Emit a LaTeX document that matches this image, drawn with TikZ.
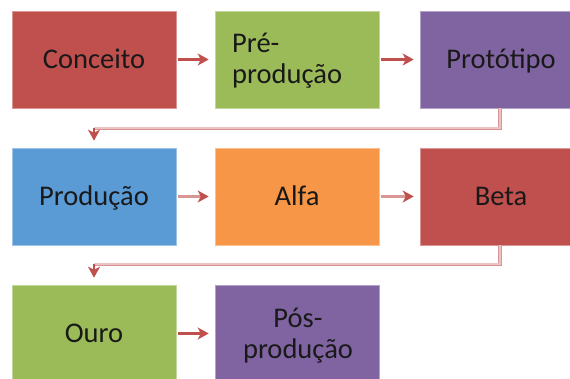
\documentclass[tikz,border=0pt]{standalone}
\usepackage{fontspec}
\setmainfont{Carlito}
\usetikzlibrary{arrows.meta}
\definecolor{cred}{HTML}{C0504D}
\definecolor{cgreen}{HTML}{9BBB59}
\definecolor{cpurple}{HTML}{8064A2}
\definecolor{cblue}{HTML}{5B9BD5}
\definecolor{corange}{HTML}{F79646}
\definecolor{cpink}{HTML}{EBC3C2}
\definecolor{cpinkedge}{HTML}{D99694}
\tikzset{
  box/.style={rectangle, minimum width=164pt, minimum height=97pt, inner sep=0pt, line width=0.6pt},
  lbl/.style={inner sep=0pt, font=\fontsize{28.5}{31}\selectfont, text=black!90},
  harrow/.style={draw=cred, line width=2.2pt, -{Stealth[length=11pt,width=12pt,inset=3pt]}},
  harrowlight/.style={draw=cpinkedge, line width=2.6pt, -{Stealth[length=11pt,width=12pt,inset=3pt,color=cred]}},
  elbowedge/.style={draw=cpinkedge, line width=3.6pt},
  elbow/.style={draw=cpink, line width=1.8pt},
  elbowtip/.style={draw=cred, line width=2pt, -{Stealth[length=11pt,width=12pt,inset=3pt]}}
}
\begin{document}
\begin{tikzpicture}[x=1pt,y=-1pt]
\useasboundingbox (0,0) rectangle (570,378);
\clip (0,0) rectangle (570,378);
% boxes
\node[box, fill=cred, draw=cred!60!white]       (conceito) at (94,59.5)  {};
\node[box, fill=cgreen, draw=cgreen!60!white]   (pre)      at (297,59.5) {};
\node[box, fill=cpurple, draw=cpurple!60!white] (proto)    at (502,59.5) {};
\node[box, fill=cblue, draw=cblue!60!white]     (producao) at (94,196.5) {};
\node[box, fill=corange, draw=corange!60!white] (alfa)     at (297,196.5) {};
\node[box, fill=cred, draw=cred!60!white]       (beta)     at (502,196.5) {};
\node[box, fill=cgreen, draw=cgreen!60!white]   (ouro)     at (94,333.5) {};
\node[box, fill=cpurple, draw=cpurple!60!white] (pos)      at (297,333.5) {};
% labels
\node[lbl, anchor=base] (tconceito) at ([yshift=-8.5pt]conceito.center) {Conceito};
\node[lbl, anchor=base west, align=left] (tpre) at (232,83) {Pré-\\produção};
\node[lbl, anchor=base] (tproto) at ([yshift=-8.5pt, xshift=-1pt]proto.center) {Protótipo};
\node[lbl, anchor=base] (tproducao) at ([yshift=-8.5pt]producao.center) {Produção};
\node[lbl, anchor=base] (talfa) at ([yshift=-8.5pt]alfa.center) {Alfa};
\node[lbl, anchor=base] (tbeta) at ([yshift=-8.5pt, xshift=-1pt]beta.center) {Beta};
\node[lbl, anchor=base] (touro) at ([yshift=-8.5pt]ouro.center) {Ouro};
\node[lbl, anchor=base, align=center] (tpos) at (298,358) {Pós-\\produção};
% horizontal arrows
\draw[harrow] ([xshift=2pt]conceito.east) -- ([xshift=-6pt]pre.west);
\draw[harrow] ([xshift=2pt]pre.east) -- ([xshift=-6pt]proto.west);
\draw[harrowlight] ([xshift=2pt]producao.east) -- ([xshift=-6pt]alfa.west);
\draw[harrowlight] ([xshift=2pt]alfa.east) -- ([xshift=-6pt]beta.west);
\draw[harrow] ([xshift=2pt]ouro.east) -- ([xshift=-6pt]pos.west);
% elbow connectors
\coordinate (e1a) at ([xshift=-2pt]proto.south);
\coordinate (e1b) at ([yshift=-20pt]e1a);
\coordinate (e1c) at (producao.north |- e1b);
\draw[elbowedge] (e1a) -- (e1b) -- (e1c);
\draw[elbow] (e1a) -- (e1b) -- (e1c);
\draw[elbowtip] (e1c) -- ([yshift=7pt]producao.north);
\coordinate (e2a) at ([xshift=-2pt]beta.south);
\coordinate (e2b) at ([yshift=-19pt]e2a);
\coordinate (e2c) at (ouro.north |- e2b);
\draw[elbowedge] (e2a) -- (e2b) -- (e2c);
\draw[elbow] (e2a) -- (e2b) -- (e2c);
\draw[elbowtip] (e2c) -- ([yshift=7pt]ouro.north);
\end{tikzpicture}
\end{document}
